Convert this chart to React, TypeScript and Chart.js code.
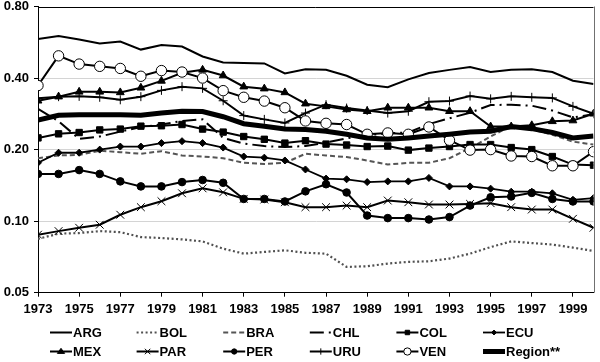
import React, { useEffect, useRef } from 'react';
import { Chart, registerables } from 'chart.js';

Chart.register(...registerables);

const years = [1973,1974,1975,1976,1977,1978,1979,1980,1981,1982,1983,1984,1985,1986,1987,1988,1989,1990,1991,1992,1993,1994,1995,1996,1997,1998,1999,2000];
const xTickYears = [1973,1975,1977,1979,1981,1983,1985,1987,1989,1991,1993,1995,1997,1999];
const yTickValues = [0.05, 0.1, 0.2, 0.4, 0.8];

const ARG = [0.584,0.601,0.581,0.559,0.570,0.527,0.551,0.543,0.493,0.465,0.463,0.461,0.418,0.436,0.433,0.409,0.375,0.366,0.395,0.420,0.433,0.445,0.424,0.433,0.436,0.424,0.390,0.378];
const BOL = [0.0842,0.0886,0.0891,0.0908,0.0899,0.0857,0.0849,0.0838,0.0822,0.0766,0.0730,0.0742,0.0754,0.0736,0.0730,0.0642,0.0646,0.0663,0.0674,0.0678,0.0696,0.0730,0.0778,0.0822,0.0809,0.0797,0.0774,0.0749];
const BRA = [0.184,0.189,0.190,0.198,0.195,0.192,0.197,0.189,0.187,0.184,0.176,0.174,0.176,0.192,0.189,0.186,0.180,0.173,0.176,0.176,0.184,0.203,0.227,0.252,0.243,0.231,0.216,0.210];
const CHL = [0.297,0.263,0.222,0.227,0.238,0.249,0.255,0.264,0.268,0.224,0.212,0.207,0.205,0.207,0.214,0.223,0.230,0.234,0.236,0.256,0.271,0.286,0.308,0.309,0.306,0.292,0.273,0.282];
const COL = [0.224,0.233,0.236,0.242,0.244,0.251,0.252,0.255,0.244,0.237,0.227,0.221,0.213,0.218,0.211,0.209,0.206,0.207,0.199,0.203,0.206,0.210,0.210,0.204,0.200,0.187,0.173,0.172];
const ECU = [0.176,0.194,0.194,0.200,0.206,0.206,0.213,0.217,0.213,0.204,0.187,0.185,0.180,0.165,0.151,0.150,0.146,0.147,0.147,0.152,0.140,0.140,0.137,0.133,0.133,0.131,0.123,0.125];
const MEX = [0.321,0.334,0.350,0.350,0.348,0.364,0.389,0.421,0.433,0.410,0.368,0.361,0.348,0.312,0.304,0.295,0.290,0.300,0.300,0.300,0.290,0.290,0.250,0.250,0.253,0.263,0.265,0.283];
const PAR = [0.0877,0.0908,0.0938,0.0966,0.1064,0.1145,0.1213,0.131,0.1374,0.1322,0.1241,0.1233,0.1201,0.1145,0.1145,0.1163,0.1145,0.1221,0.1201,0.1175,0.1175,0.1182,0.119,0.1145,0.1119,0.1119,0.1023,0.0938];
const PER = [0.158,0.158,0.164,0.158,0.147,0.140,0.140,0.146,0.149,0.145,0.124,0.124,0.121,0.1335,0.143,0.132,0.1056,0.103,0.103,0.1016,0.104,0.1163,0.126,0.127,0.1315,0.124,0.121,0.121];
const URU = [0.329,0.334,0.335,0.332,0.324,0.334,0.355,0.368,0.362,0.321,0.278,0.268,0.259,0.285,0.309,0.299,0.292,0.285,0.290,0.318,0.320,0.336,0.327,0.335,0.332,0.330,0.304,0.283];
const VEN = [0.372,0.496,0.458,0.448,0.439,0.407,0.430,0.424,0.400,0.354,0.332,0.320,0.300,0.264,0.258,0.255,0.232,0.235,0.232,0.249,0.219,0.199,0.200,0.188,0.187,0.171,0.171,0.196];
const REGION = [0.266,0.279,0.280,0.280,0.280,0.279,0.285,0.290,0.289,0.275,0.257,0.251,0.244,0.243,0.239,0.232,0.224,0.221,0.224,0.228,0.232,0.237,0.239,0.250,0.245,0.236,0.224,0.228];

const FONT = "'Liberation Sans', Arial, sans-serif";

type SeriesStyle = {
  label: string;
  values: number[];
  color: string;
  width: number;
  dash: number[];
  point: string | false;
  radius: number;
  fill: string;
};

const series: SeriesStyle[] = [
  { label: 'ARG', values: ARG, color: '#000', width: 2, dash: [], point: false, radius: 0, fill: '#000' },
  { label: 'BOL', values: BOL, color: '#505050', width: 2.2, dash: [2, 2.5], point: false, radius: 0, fill: '#000' },
  { label: 'BRA', values: BRA, color: '#555555', width: 2, dash: [5, 3], point: false, radius: 0, fill: '#000' },
  { label: 'CHL', values: CHL, color: '#000', width: 2, dash: [14, 5, 2, 5], point: false, radius: 0, fill: '#000' },
  { label: 'COL', values: COL, color: '#000', width: 2, dash: [], point: 'rect', radius: 4.5, fill: '#000' },
  { label: 'ECU', values: ECU, color: '#000', width: 1.8, dash: [], point: 'rectRot', radius: 3.5, fill: '#000' },
  { label: 'MEX', values: MEX, color: '#000', width: 2, dash: [], point: 'triangle', radius: 4.5, fill: '#000' },
  { label: 'PAR', values: PAR, color: '#000', width: 2, dash: [], point: 'crossRot', radius: 5.5, fill: '#000' },
  { label: 'PER', values: PER, color: '#000', width: 2, dash: [], point: 'circle', radius: 3.8, fill: '#000' },
  { label: 'URU', values: URU, color: '#000', width: 2, dash: [], point: 'cross', radius: 4.5, fill: '#000' },
  { label: 'VEN', values: VEN, color: '#000', width: 2, dash: [], point: 'circle', radius: 5.2, fill: '#fff' },
  { label: 'Region**', values: REGION, color: '#000', width: 5, dash: [], point: false, radius: 0, fill: '#000' },
];

function drawMarker(ctx: CanvasRenderingContext2D, style: string, x: number, y: number, r: number, fill: string) {
  ctx.save();
  ctx.setLineDash([]);
  ctx.lineWidth = 1;
  ctx.strokeStyle = '#000';
  ctx.fillStyle = fill;
  ctx.beginPath();
  if (style === 'circle') {
    ctx.arc(x, y, r, 0, Math.PI * 2);
    ctx.fill();
    ctx.stroke();
  } else if (style === 'rect') {
    const s = r * Math.SQRT1_2;
    ctx.rect(x - s, y - s, 2 * s, 2 * s);
    ctx.fill();
    ctx.stroke();
  } else if (style === 'rectRot') {
    ctx.moveTo(x, y - r);
    ctx.lineTo(x + r, y);
    ctx.lineTo(x, y + r);
    ctx.lineTo(x - r, y);
    ctx.closePath();
    ctx.fill();
    ctx.stroke();
  } else if (style === 'triangle') {
    const h = r * 1.5;
    ctx.moveTo(x, y - r);
    ctx.lineTo(x + h / 1.3, y + r * 0.6);
    ctx.lineTo(x - h / 1.3, y + r * 0.6);
    ctx.closePath();
    ctx.fill();
    ctx.stroke();
  } else if (style === 'cross') {
    ctx.moveTo(x - r, y);
    ctx.lineTo(x + r, y);
    ctx.moveTo(x, y - r);
    ctx.lineTo(x, y + r);
    ctx.stroke();
  } else if (style === 'crossRot') {
    const d = r * Math.SQRT1_2;
    ctx.moveTo(x - d, y - d);
    ctx.lineTo(x + d, y + d);
    ctx.moveTo(x + d, y - d);
    ctx.lineTo(x - d, y + d);
    ctx.stroke();
  }
  ctx.restore();
}

const legendPlugin = {
  id: 'customLegend',
  afterDraw(chart: any) {
    const ctx: CanvasRenderingContext2D = chart.ctx;
    series.forEach((s, i) => {
      const row = Math.floor(i / 6);
      const col = i % 6;
      const x0 = 50 + col * 86.6;
      const y = row === 0 ? 332.5 : 351.5;
      ctx.save();
      ctx.strokeStyle = s.color;
      ctx.lineWidth = s.width;
      ctx.setLineDash(s.dash);
      ctx.beginPath();
      ctx.moveTo(x0, y);
      ctx.lineTo(x0 + 22, y);
      ctx.stroke();
      ctx.restore();
      if (s.point) {
        drawMarker(ctx, s.point, x0 + 11, y, s.radius * 0.7, s.fill);
      }
      ctx.save();
      ctx.fillStyle = '#000';
      ctx.font = `bold 13px ${FONT}`;
      ctx.textBaseline = 'middle';
      ctx.textAlign = 'left';
      ctx.fillText(s.label, x0 + 23, y + 0.5);
      ctx.restore();
    });
  },
};

const framePlugin = {
  id: 'frame',
  afterDatasetsDraw(chart: any) {
    const { ctx, chartArea } = chart;
    ctx.save();
    ctx.lineWidth = 1;
    ctx.strokeStyle = '#000';
    ctx.beginPath();
    ctx.moveTo(chartArea.left, Math.round(chartArea.top) + 0.5);
    ctx.lineTo(chartArea.right, Math.round(chartArea.top) + 0.5);
    ctx.stroke();
    ctx.strokeStyle = '#707070';
    ctx.beginPath();
    ctx.moveTo(Math.round(chartArea.right) + 0.5, chartArea.top);
    ctx.lineTo(Math.round(chartArea.right) + 0.5, chartArea.bottom);
    ctx.stroke();
    ctx.restore();
  },
};

export default function App() {
  const canvasRef = useRef<HTMLCanvasElement | null>(null);

  useEffect(() => {
    if (!canvasRef.current) return;
    const datasets = series.map((s, i) => ({
      label: s.label,
      data: years.map((yr, k) => ({ x: yr, y: s.values[k] })),
      borderColor: s.color,
      borderWidth: s.width,
      borderDash: s.dash,
      backgroundColor: s.fill,
      pointStyle: s.point || 'circle',
      pointRadius: s.radius,
      pointBackgroundColor: s.fill,
      pointBorderColor: '#000',
      pointBorderWidth: 1,
      pointHoverRadius: s.radius,
      tension: 0,
      fill: false,
      order: series.length - i,
    }));

    const chart = new Chart(canvasRef.current, {
      type: 'line',
      data: { datasets },
      plugins: [legendPlugin, framePlugin],
      options: {
        animation: false,
        responsive: false,
        events: [],
        layout: { padding: { top: 5, right: 5, left: 0, bottom: 0 } },
        plugins: { legend: { display: false }, tooltip: { enabled: false } },
        scales: {
          x: {
            type: 'linear',
            min: 1973,
            max: 2000,
            afterBuildTicks: (scale: any) => {
              scale.ticks = xTickYears.map((v) => ({ value: v }));
            },
            afterFit: (scale: any) => {
              scale.height = 69.3;
              scale.paddingLeft = 0;
              scale.paddingRight = 0;
            },
            ticks: {
              callback: (v: any) => String(v),
              color: '#000',
              font: { family: FONT, size: 13, weight: 'bold' },
              padding: 5,
              maxRotation: 0,
              autoSkip: false,
            },
            grid: { drawOnChartArea: false, tickLength: 4, tickColor: '#000' },
            border: { color: '#000', width: 1 },
          },
          y: {
            type: 'logarithmic',
            min: 0.05,
            max: 0.8,
            afterBuildTicks: (scale: any) => {
              scale.ticks = yTickValues.map((v) => ({ value: v }));
            },
            afterFit: (scale: any) => {
              scale.width = 38;
              scale.paddingTop = 0;
              scale.paddingBottom = 0;
            },
            ticks: {
              callback: (v: any) => Number(v).toFixed(2),
              color: '#000',
              font: { family: FONT, size: 13, weight: 'bold' },
              padding: 5,
              autoSkip: false,
            },
            grid: {
              color: (c: any) =>
                c.tick && (c.tick.value === 0.05 || c.tick.value === 0.8) ? 'rgba(0,0,0,0)' : '#d4d4d4',
              tickColor: '#000',
              tickLength: 4,
            },
            border: { color: '#000', width: 1 },
          },
        },
      } as any,
    });
    return () => chart.destroy();
  }, []);

  return (
    <div style={{ position: 'absolute', left: 0, top: 0, width: 600, height: 362, background: '#fff' }}>
      <canvas ref={canvasRef} width={600} height={362} style={{ display: 'block' }} />
    </div>
  );
}
